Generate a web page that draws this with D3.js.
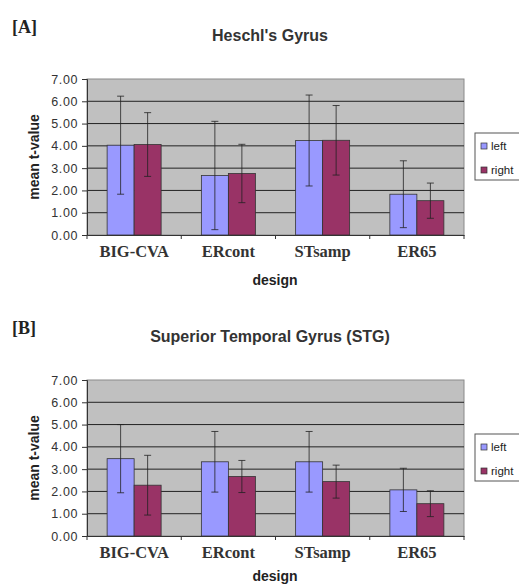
<!DOCTYPE html>
<html>
<head>
<meta charset="utf-8">
<script src="https://cdn.jsdelivr.net/npm/d3@7"></script>
<style>
  body { margin: 0; background: #fff; }
  svg { display: block; }
</style>
</head>
<body>
<svg id="chart" width="519" height="587"></svg>
<script>
// categories / series
const designs = ['BIG-CVA', 'ERcont', 'STsamp', 'ER65'];
const sides = ['left', 'right'];
const yTicks = [0, 1, 2, 3, 4, 5, 6, 7];

// [A] Heschl's Gyrus
const heschlLeft = [4.03, 2.67, 4.24, 1.83];
const heschlLeftErr = [2.2, 2.43, 2.04, 1.5];
const heschlRight = [4.06, 2.76, 4.25, 1.54];
const heschlRightErr = [1.43, 1.31, 1.56, 0.79];

// [B] Superior Temporal Gyrus
const stgLeft = [3.47, 3.33, 3.33, 2.07];
const stgLeftErr = [1.53, 1.36, 1.36, 0.97];
const stgRight = [2.28, 2.67, 2.44, 1.45];
const stgRightErr = [1.34, 0.72, 0.74, 0.58];

const colors = { left: '#9999ff', right: '#993366' };

const svg = d3.select('#chart');

// 画一个面板
function drawPanel(cfg) {
    const left = 87, right = 464;
    const g = svg.append('g').attr('class', 'panel');

    // panel letter
    g.append('text')
        .attr('x', 12).attr('y', cfg.top - 46)
        .attr('font-family', 'Liberation Serif')
        .attr('font-weight', 'bold')
        .attr('font-size', 18)
        .attr('fill', '#222')
        .text(cfg.letter);

    g.append('text')
        .attr('x', 270).attr('y', cfg.top - 38)
        .attr('text-anchor', 'middle')
        .attr('font-family', 'Liberation Sans')
        .attr('font-weight', 'bold')
        .attr('font-size', 16)
        .attr('fill', '#333')
        .text(cfg.title);

    const y = d3.scaleLinear().domain([0, 7]).range([cfg.bottom, cfg.top]);
    const x0 = d3.scaleBand().domain(designs).range([left, right]).padding(0);
    const x1 = d3.scaleBand().domain(sides).range([0, x0.bandwidth()])
        .paddingInner(0).paddingOuter(0.745);

    // plot area
    g.append('rect')
        .attr('x', left).attr('y', cfg.top)
        .attr('width', right - left).attr('height', cfg.bottom - cfg.top)
        .attr('fill', '#c0c0c0')
        .attr('stroke', '#8a8a8a')
        .attr('stroke-width', 1);

    // gridlines
    g.append('g').selectAll('line')
        .data(yTicks.filter(d => d > 0 && d < 7))
        .join('line')
        .attr('x1', left).attr('x2', right)
        .attr('y1', d => y(d)).attr('y2', d => y(d))
        .attr('stroke', '#222')
        .attr('stroke-width', 1);

    // bars
    const rows = designs.map((d, i) => ({
        design: d,
        vals: [
            { side: 'left', v: cfg.leftVals[i], e: cfg.leftErr[i] },
            { side: 'right', v: cfg.rightVals[i], e: cfg.rightErr[i] }
        ]
    }));

    const grp = g.append('g').selectAll('g.group')
        .data(rows)
        .join('g')
        .attr('class', 'group')
        .attr('transform', d => 'translate(' + x0(d.design) + ',0)');

    grp.selectAll('rect')
        .data(d => d.vals)
        .join('rect')
        .attr('x', d => x1(d.side))
        .attr('y', d => y(d.v))
        .attr('width', x1.bandwidth())
        .attr('height', d => y(0) - y(d.v))
        .attr('fill', d => colors[d.side])
        .attr('stroke', '#333')
        .attr('stroke-width', 0.8);

    // error bars
    const eb = grp.selectAll('g.err')
        .data(d => d.vals)
        .join('g')
        .attr('class', 'err')
        .attr('transform', d => 'translate(' + (x1(d.side) + x1.bandwidth() / 2) + ',0)');
    eb.append('line')
        .attr('y1', d => y(d.v + d.e)).attr('y2', d => y(d.v - d.e))
        .attr('stroke', '#222').attr('stroke-width', 0.8);
    eb.append('line')
        .attr('x1', -3.5).attr('x2', 3.5)
        .attr('y1', d => y(d.v + d.e)).attr('y2', d => y(d.v + d.e))
        .attr('stroke', '#222').attr('stroke-width', 0.8);
    eb.append('line')
        .attr('x1', -3.5).attr('x2', 3.5)
        .attr('y1', d => y(d.v - d.e)).attr('y2', d => y(d.v - d.e))
        .attr('stroke', '#222').attr('stroke-width', 0.8);

    // y axis
    const yAxis = g.append('g')
        .attr('transform', 'translate(' + left + ',0)')
        .call(d3.axisLeft(y).tickValues(yTicks).tickFormat(d3.format('.2f')).tickSize(5).tickPadding(4));
    yAxis.select('.domain').attr('stroke', '#333');
    yAxis.selectAll('.tick line').attr('stroke', '#333');
    yAxis.selectAll('text')
        .attr('font-family', 'Liberation Sans')
        .attr('font-size', 12.5)
        .attr('letter-spacing', 0.6)
        .attr('fill', '#333');

    // x axis
    const xAxis = g.append('g')
        .attr('transform', 'translate(0,' + cfg.bottom + ')')
        .call(d3.axisBottom(x0).tickSize(0).tickPadding(10));
    xAxis.select('.domain').attr('stroke', '#333');
    xAxis.selectAll('text')
        .attr('font-family', 'Liberation Serif')
        .attr('font-weight', 'bold')
        .attr('font-size', 16.5)
        .attr('fill', '#333');
    // band boundary ticks
    xAxis.append('g').selectAll('line')
        .data(designs.map(d => x0(d)).concat([right]))
        .join('line')
        .attr('x1', d => d).attr('x2', d => d)
        .attr('y1', 0).attr('y2', 4)
        .attr('stroke', '#333');

    // axis titles
    g.append('text')
        .attr('transform', 'translate(39,' + ((cfg.top + cfg.bottom) / 2) + ') rotate(-90)')
        .attr('text-anchor', 'middle')
        .attr('font-family', 'Liberation Sans')
        .attr('font-weight', 'bold')
        .attr('font-size', 14)
        .attr('fill', '#222')
        .text('mean t-value');

    g.append('text')
        .attr('x', 275).attr('y', cfg.bottom + cfg.designGap)
        .attr('text-anchor', 'middle')
        .attr('font-family', 'Liberation Sans')
        .attr('font-weight', 'bold')
        .attr('font-size', 14)
        .attr('fill', '#222')
        .text('design');

    // legend
    const lg = g.append('g').attr('transform', 'translate(475,' + cfg.legendTop + ')');
    lg.append('rect')
        .attr('width', 50).attr('height', 47)
        .attr('fill', '#fff')
        .attr('stroke', '#555');
    const li = lg.selectAll('g.item')
        .data(sides)
        .join('g')
        .attr('class', 'item')
        .attr('transform', (d, i) => 'translate(6,' + (13 + i * 24) + ')');
    li.append('rect')
        .attr('x', 0).attr('y', -3)
        .attr('width', 6).attr('height', 6)
        .attr('fill', d => colors[d])
        .attr('stroke', '#333').attr('stroke-width', 0.7);
    li.append('text')
        .attr('x', 10).attr('y', 4)
        .attr('font-family', 'Liberation Sans')
        .attr('font-size', 11.5)
        .attr('fill', '#222')
        .text(d => d);
}

drawPanel({
    letter: '[A]', title: "Heschl's Gyrus",
    top: 79, bottom: 235, legendTop: 133, designGap: 50,
    leftVals: heschlLeft, leftErr: heschlLeftErr,
    rightVals: heschlRight, rightErr: heschlRightErr
});

drawPanel({
    letter: '[B]', title: 'Superior Temporal Gyrus (STG)',
    top: 380, bottom: 536, legendTop: 434, designGap: 45,
    leftVals: stgLeft, leftErr: stgLeftErr,
    rightVals: stgRight, rightErr: stgRightErr
});
</script>
</body>
</html>
